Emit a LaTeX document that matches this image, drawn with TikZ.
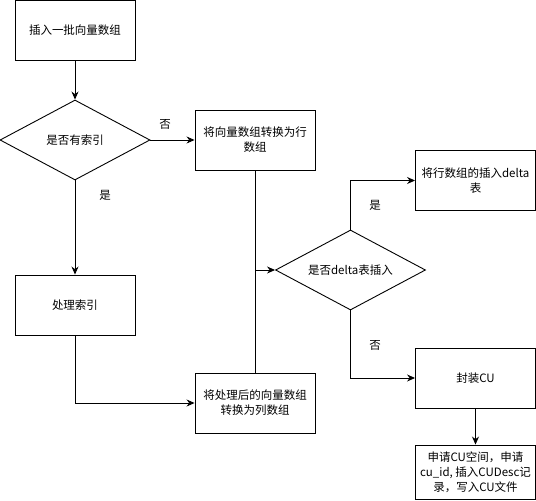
\documentclass[tikz,border=0pt]{standalone}
\usepackage{fontspec}
\setmainfont{Noto Sans CJK SC}
\usetikzlibrary{shapes.geometric, arrows.meta}

\tikzset{
  block/.style={draw, line width=0.9pt, minimum width=120pt, minimum height=60pt,
    inner sep=2pt, align=center, font=\fontsize{11.5}{15}\selectfont},
  decision/.style={draw, diamond, line width=0.9pt, aspect=1.875, inner sep=0pt,
    minimum width=150pt, minimum height=80pt, font=\fontsize{11.5}{15}\selectfont},
  flow/.style={line width=0.9pt, -{Stealth[length=8pt, width=7pt]}},
  tag/.style={font=\fontsize{11.5}{15}\selectfont}
}

\begin{document}
\begin{tikzpicture}[x=1pt, y=-1pt]
    \useasboundingbox (0, 0) rectangle (536, 501);

    \node [block] (insert) at (75, 30.5) {插入一批向量数组};
    \node [decision] (hasindex) at (75, 140) {是否有索引};
    \node [block] (torow) at (255, 140) {将向量数组转换为行\\数组};
    \node [block] (doindex) at (75, 305) {处理索引};
    \node [block] (tocol) at (255, 403) {将处理后的向量数组\\转换为列数组};

    \node [decision] (isdelta) at (350.5, 270) {是否delta表插入};
    \node [block] (todelta) at (475.5, 180.5) {将行数组的插入delta\\表};
    \node [block] (packcu) at (475.5, 378) {封装CU};
    \node [block, minimum height=54pt] (writecu) at (475.5, 472) {申请CU空间，申请\\cu\_id, 插入CUDesc记\\录，写入CU文件};

    \draw [flow] (insert) to (hasindex);
    \draw [flow] (hasindex.east) to (torow.west);
    \node [tag] at (165, 124) {否};
    \draw [flow] (hasindex.south) to (doindex.north);
    \node [tag] at (105, 195) {是};
    \draw [flow] (doindex.south) |- (tocol.west);

    % both column paths meet here
    \coordinate (join) at (torow.south |- isdelta.west);
    \draw [line width=0.9pt] (torow.south) to (tocol.north);
    \draw [flow] (join) to (isdelta.west);

    \draw [flow] (isdelta.north) |- (todelta.west);
    \node [tag] at (375, 205) {是};
    \draw [flow] (isdelta.south) |- (packcu.west);
    \node [tag] at (375, 345) {否};
    \draw [flow] (packcu.south) to (writecu.north);

  \end{tikzpicture}
\end{document}
